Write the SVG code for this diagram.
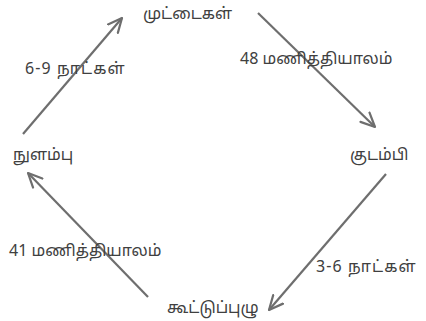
<svg xmlns="http://www.w3.org/2000/svg" width="426" height="321" viewBox="0 0 426 321">
<style>
text{font-family:"Noto Sans Tamil","Noto Sans","DejaVu Sans",sans-serif;font-size:16px;fill:#404040}
.wide{letter-spacing:1.1px}
.c line{stroke:#6e6e6e;stroke-width:2.2;fill:none}
</style>
<defs>
<marker id="ah" viewBox="0 0 16 16" refX="15" refY="8" markerWidth="16" markerHeight="16" markerUnits="userSpaceOnUse" orient="auto">
<path d="M1,1.5 L15,8 L1,14.5" fill="none" stroke="#6e6e6e" stroke-width="2.2" stroke-linecap="round" stroke-linejoin="round"/>
</marker>
</defs>
<rect width="426" height="321" fill="#ffffff"/>
<g class="c" id="connectors">
<line x1="23" y1="134" x2="122" y2="18" marker-end="url(#ah)"/>
<line x1="258" y1="13" x2="375" y2="127" marker-end="url(#ah)"/>
<line x1="386" y1="174" x2="269" y2="310" marker-end="url(#ah)"/>
<line x1="148" y1="297" x2="28" y2="173" marker-end="url(#ah)"/>
</g>
<g id="n1"><text x="143" y="19">முட்டைகள்</text></g>
<g id="n2"><text x="350" y="160">குடம்பி</text></g>
<g id="n3"><text x="167" y="313">கூட்டுப்புழு</text></g>
<g id="n4"><text x="13" y="160">நுளம்பு</text></g>
<g id="l1"><text x="240" y="64">48 மணித்தியாலம்</text></g>
<g id="l2"><text class="wide" x="316" y="272">3-6 நாட்கள்</text></g>
<g id="l3"><text x="9" y="256">41 மணித்தியாலம்</text></g>
<g id="l4"><text class="wide" x="25" y="74">6-9 நாட்கள்</text></g>
</svg>
